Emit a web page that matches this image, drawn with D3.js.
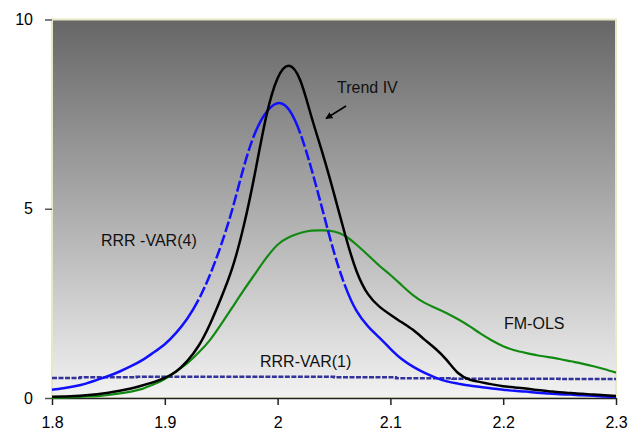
<!DOCTYPE html>
<html><head><meta charset="utf-8">
<script src="https://cdn.jsdelivr.net/npm/d3@7"></script>
<style>body{margin:0;background:#fff}svg{display:block}text{font-family:"Liberation Sans",Arial,sans-serif}</style>
</head><body><svg id="c" width="644" height="428"></svg>
<script>
const xTicks = [1.8, 1.9, 2.0, 2.1, 2.2, 2.3];
const xTickLabels = ["1.8", "1.9", "2", "2.1", "2.2", "2.3"];
const yTicks = [0, 5, 10];

const gridX = [1.80,1.81,1.82,1.83,1.84,1.85,1.86,1.87,1.88,1.89,1.90,1.91,1.92,1.93,1.94,1.95,1.96,1.97,1.98,1.99,2.00,2.01,2.02,2.03,2.04,2.05,2.06,2.07,2.08,2.09,2.10,2.11,2.12,2.13,2.14,2.15,2.16,2.17,2.18,2.19,2.20,2.21,2.22,2.23,2.24,2.25,2.26,2.27,2.28,2.29,2.30];

const trendY = [0.03,0.04,0.05,0.07,0.10,0.14,0.19,0.25,0.33,0.42,0.53,0.70,0.98,1.38,1.95,2.65,3.45,4.55,5.95,7.45,8.45,8.78,8.40,7.43,6.45,5.40,4.30,3.35,2.75,2.42,2.20,2.00,1.80,1.55,1.30,1.00,0.66,0.49,0.42,0.36,0.31,0.28,0.25,0.21,0.18,0.15,0.13,0.11,0.09,0.07,0.05];

const rrr4Y = [0.22,0.26,0.31,0.38,0.48,0.58,0.70,0.84,1.00,1.20,1.42,1.72,2.10,2.60,3.25,4.05,5.00,6.10,7.00,7.55,7.79,7.62,7.00,6.05,4.95,3.85,2.95,2.30,1.90,1.60,1.30,1.03,0.83,0.67,0.54,0.44,0.38,0.33,0.29,0.25,0.22,0.19,0.17,0.14,0.12,0.10,0.09,0.07,0.06,0.04,0.03];

const fmY = [0.00,0.01,0.02,0.04,0.05,0.08,0.12,0.17,0.24,0.36,0.50,0.70,0.92,1.20,1.53,1.95,2.40,2.85,3.28,3.70,4.05,4.25,4.36,4.42,4.43,4.40,4.28,4.05,3.78,3.50,3.25,2.98,2.72,2.52,2.38,2.24,2.08,1.90,1.70,1.52,1.37,1.26,1.19,1.13,1.08,1.03,0.97,0.91,0.84,0.76,0.67];

const rrr1X = [1.8, 1.85, 1.9, 2.0, 2.1, 2.11, 2.2, 2.3];
const rrr1Y = [0.53, 0.55, 0.56, 0.56, 0.55, 0.52, 0.51, 0.50];

const svg = d3.select("#c");
const x = d3.scaleLinear().domain([1.8, 2.3]).range([52, 616]);
const y = d3.scaleLinear().domain([0, 10]).range([398, 19.5]);

const defs = svg.append("defs");
const g = defs.append("linearGradient").attr("id","bg").attr("x1",0).attr("y1",0).attr("x2",0).attr("y2",1);
g.append("stop").attr("offset","0%").attr("stop-color","#666666");
g.append("stop").attr("offset","100%").attr("stop-color","#f2f2f2");
const mk = defs.append("marker").attr("id","ah").attr("viewBox","0 0 10 10").attr("refX",9).attr("refY",5)
  .attr("markerWidth",7).attr("markerHeight",7).attr("orient","auto").attr("markerUnits","userSpaceOnUse");
mk.append("path").attr("d","M0,0L10,5L0,10z").attr("fill","#000");

svg.append("rect").attr("x",x(1.8)).attr("y",y(10)).attr("width",x(2.3)-x(1.8)).attr("height",y(0)-y(10))
  .attr("fill","url(#bg)").attr("stroke","#e8e8c4").attr("stroke-width",2);

const xa = svg.append("g").attr("transform",`translate(0,${y(0)})`)
  .call(d3.axisBottom(x).tickValues(xTicks).tickSize(7).tickSizeOuter(0).tickFormat((d,i)=>xTickLabels[i]));
xa.select(".domain").attr("stroke","#222").attr("stroke-width",1.5);
xa.selectAll(".tick line").attr("stroke","#222").attr("stroke-width",1.5);
xa.selectAll(".tick text").attr("font-size",16).attr("fill","#000").attr("dy",0).attr("y",29.5)
  .attr("font-family","Liberation Sans, Arial, sans-serif");

const ya = svg.append("g").attr("transform",`translate(${x(1.8)},0)`)
  .call(d3.axisLeft(y).tickValues(yTicks).tickSize(7).tickSizeOuter(0).tickFormat(d3.format("d")));
ya.select(".domain").remove();
ya.selectAll(".tick line").attr("stroke","#555").attr("stroke-width",1.5);
ya.selectAll(".tick text").attr("font-size",16).attr("fill","#000").attr("x",-19)
  .attr("font-family","Liberation Sans, Arial, sans-serif");

const line = d3.line().x(d=>x(d[0])).y(d=>y(d[1])).curve(d3.curveNatural);
const zip = (a,b)=>a.map((v,i)=>[v,b[i]]);

svg.append("path").datum(zip(rrr1X,rrr1Y)).attr("d",d3.line().x(d=>x(d[0])).y(d=>y(d[1])).curve(d3.curveStep))
  .attr("fill","none").attr("stroke","#333399").attr("stroke-width",2.5).attr("stroke-dasharray","5,1.5");
svg.append("path").datum(zip(gridX,fmY)).attr("d",line).attr("fill","none").attr("stroke","#128a12").attr("stroke-width",2.2);
const bp = svg.append("path").datum(zip(gridX,rrr4Y)).attr("d",line).attr("fill","none").attr("stroke","#1010ff").attr("stroke-width",2.5);
// steep parts of this curve look broken into long dashes in the reference
(function(){
  const node = bp.node(), L = node.getTotalLength();
  const peakY = y(d3.max(rrr4Y));
  let lenA=null, lenB=null, lenC=null, lenD=null, passedPeak=false;
  for (let s=0; s<=L; s+=0.5) {
    const p = node.getPointAtLength(s);
    if (!passedPeak) {
      if (lenA===null && p.y < 300) lenA = s;
      if (lenB===null && p.y < 133) lenB = s;
      if (p.y <= peakY+0.3) passedPeak = true;
    } else {
      if (lenC===null && p.y > 133) lenC = s;
      if (lenD===null && p.y > 290) { lenD = s; break; }
    }
  }
  if ([lenA,lenB,lenC,lenD].some(v=>v===null)) return;
  const arr=[];
  const dashRun=(len)=>{ let used=0; while(used+14<=len){arr.push(11,3);used+=14;} return len-used; };
  let first = lenA;
  arr.push(first, 3); let rem = dashRun(lenB-lenA-3);
  arr.push(rem + (lenC-lenB), 3); rem = dashRun(lenD-lenC-3);
  arr.push(rem + (L-lenD) + 5, 0);
  bp.attr("stroke-dasharray", arr.join(","));
})();
svg.append("path").datum(zip(gridX,trendY)).attr("d",line).attr("fill","none").attr("stroke","#000").attr("stroke-width",2.5);

const lab = (t,xx,yy)=>svg.append("text").attr("x",xx).attr("y",yy).attr("font-size",16).attr("fill","#111").text(t);
lab("Trend IV",337,93.3);
lab("RRR -VAR(4)",101,245.7);
lab("FM-OLS",504,329.3);
lab("RRR-VAR(1)",260,366.7);
svg.append("line").attr("x1",346).attr("y1",106).attr("x2",326).attr("y2",118.5)
  .attr("stroke","#000").attr("stroke-width",1.5).attr("marker-end","url(#ah)");
</script></body></html>
